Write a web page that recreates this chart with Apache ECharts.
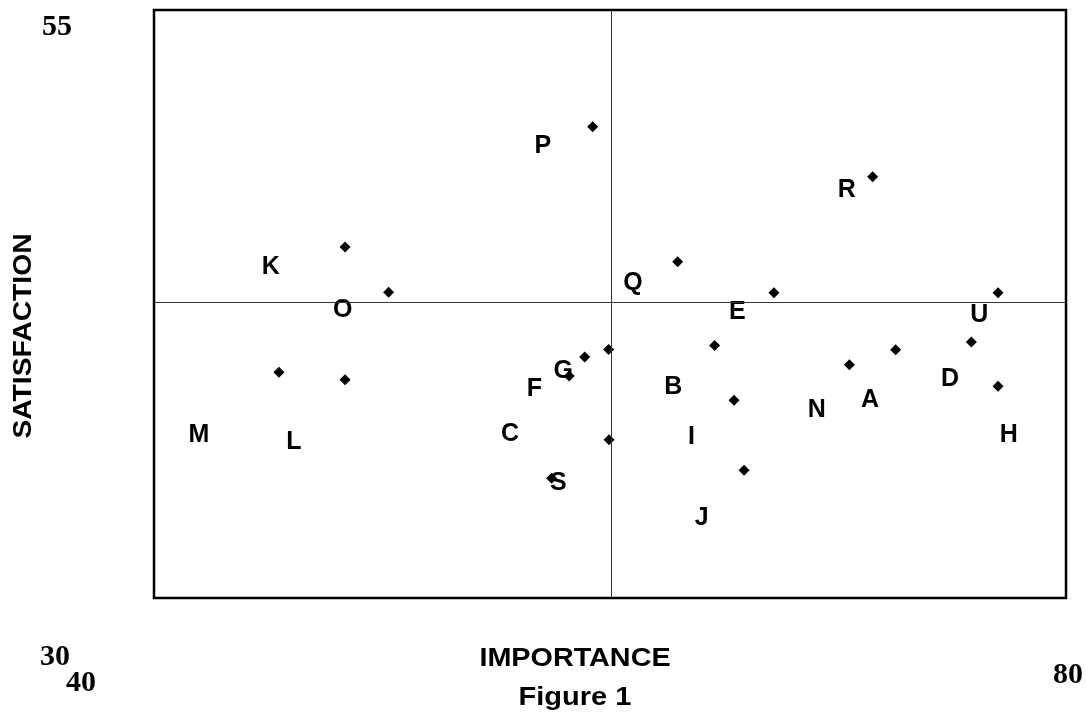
<!DOCTYPE html>
<html>
<head>
<meta charset="utf-8">
<script src="https://cdn.jsdelivr.net/npm/echarts@6/dist/echarts.min.js"></script>
<style>
html,body{margin:0;padding:0;background:#fff;}
#chart{width:1086px;height:717px;}
</style>
</head>
<body>
<div id="chart"></div>
<script>
// Point markers (importance, satisfaction)
var importance = [59.24, 71.52, 48.38, 50.29, 62.97, 67.19, 77.02, 64.59, 59.94, 58.89, 58.21, 45.48, 48.38, 70.50, 72.53, 75.85, 77.02, 65.44, 59.96, 65.88, 57.44];
var satisfaction = [50.04, 47.91, 44.92, 43.00, 44.30, 42.98, 42.98, 40.74, 40.57, 40.25, 39.44, 39.60, 39.28, 39.92, 40.56, 40.88, 39.00, 38.41, 36.73, 35.43, 35.09];

// Letter labels and where they sit
var labelNames = ['A','B','C','D','E','F','G','H','I','J','K','L','M','N','O','P','Q','R','S','U'];
var labelX = [71.40, 62.78, 55.61, 74.91, 65.58, 56.68, 57.95, 77.49, 63.57, 64.02, 45.12, 46.14, 41.97, 69.07, 48.28, 57.05, 61.01, 70.38, 57.73, 76.20];
var labelY = [38.49, 39.06, 37.05, 39.41, 42.24, 38.96, 39.74, 37.03, 36.93, 33.50, 44.16, 36.72, 37.03, 38.07, 42.33, 49.29, 43.48, 47.44, 34.97, 42.13];

// Quadrant dividers
var importanceMid = 60.07;
var satisfactionMid = 42.59;

// Axis range and tick labels
var xRange = [40, 80];
var yRange = [30, 55];
var xTickLabels = ['40', '80'];
var yTickLabels = ['55', '30'];
var xTitle = 'IMPORTANCE';
var yTitle = 'SATISFACTION';
var caption = 'Figure 1';

var pointData = importance.map(function (x, i) { return [x, satisfaction[i]]; });
var labelData = labelNames.map(function (n, i) { return { name: n, value: [labelX[i], labelY[i]] }; });

var sansBold = 'bold 25px "Liberation Sans", Arial, sans-serif';
var serifBold = 'bold 30px "Liberation Serif", "Times New Roman", serif';

var chart = echarts.init(document.getElementById('chart'), null, { renderer: 'canvas' });
chart.setOption({
  animation: false,
  backgroundColor: '#ffffff',
  grid: {
    left: 154, right: 20, top: 10, bottom: 119,
    show: true, borderColor: '#000', borderWidth: 2.5, backgroundColor: 'transparent'
  },
  xAxis: {
    type: 'value', min: xRange[0], max: xRange[1],
    axisLine: { show: false }, axisTick: { show: false }, axisLabel: { show: false }, splitLine: { show: false }
  },
  yAxis: {
    type: 'value', min: yRange[0], max: yRange[1],
    axisLine: { show: false }, axisTick: { show: false }, axisLabel: { show: false }, splitLine: { show: false }
  },
  series: [
    {
      type: 'scatter',
      data: pointData,
      symbol: 'diamond',
      symbolSize: 11,
      itemStyle: { color: '#000', opacity: 1 },
      z: 3,
      markLine: {
        silent: true,
        symbol: 'none',
        label: { show: false },
        lineStyle: { color: '#333', width: 1, type: 'solid', opacity: 1 },
        data: [{ xAxis: importanceMid }, { yAxis: satisfactionMid }]
      }
    },
    {
      type: 'scatter',
      data: labelData,
      symbolSize: 0,
      itemStyle: { color: '#000', opacity: 1 },
      z: 4,
      label: {
        show: true,
        position: 'inside',
        offset: [0, 2],
        formatter: '{b}',
        color: '#000',
        opacity: 1,
        fontFamily: '"Liberation Sans", Arial, sans-serif',
        fontWeight: 'bold',
        fontSize: 25
      }
    }
  ],
  graphic: [
    { type: 'text', x: 57, y: 27, style: { text: yTickLabels[0], font: serifBold, fill: '#000', align: 'center', verticalAlign: 'middle' } },
    { type: 'text', x: 55, y: 657, style: { text: yTickLabels[1], font: serifBold, fill: '#000', align: 'center', verticalAlign: 'middle' } },
    { type: 'text', x: 81, y: 683, style: { text: xTickLabels[0], font: serifBold, fill: '#000', align: 'center', verticalAlign: 'middle' } },
    { type: 'text', x: 1068, y: 675, style: { text: xTickLabels[1], font: serifBold, fill: '#000', align: 'center', verticalAlign: 'middle' } },
    { type: 'text', x: 575, y: 659, scaleX: 1.15, style: { text: xTitle, font: sansBold, fill: '#000', align: 'center', verticalAlign: 'middle' } },
    { type: 'text', x: 575, y: 698, scaleX: 1.16, style: { text: caption, font: sansBold, fill: '#000', align: 'center', verticalAlign: 'middle' } },
    { type: 'text', x: 24, y: 336, rotation: Math.PI / 2, scaleX: 1.13, style: { text: yTitle, font: sansBold, fill: '#000', align: 'center', verticalAlign: 'middle' } }
  ]
});
</script>
</body>
</html>
